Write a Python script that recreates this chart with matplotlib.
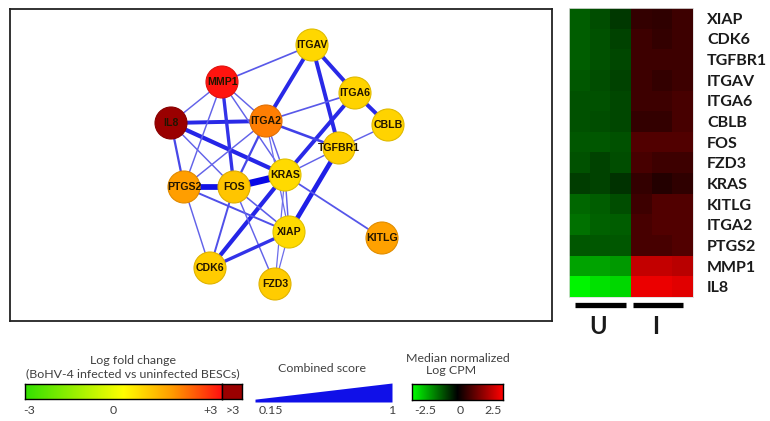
import numpy as np
import matplotlib
matplotlib.use("Agg")
import matplotlib.pyplot as plt
from matplotlib.colors import LinearSegmentedColormap, to_rgb
from matplotlib.patches import Circle, Rectangle

W, H = 770, 421

# genes in the interaction network, with log fold change (infected vs uninfected)
genes = ["ITGAV", "MMP1", "ITGA6", "IL8", "ITGA2", "CBLB", "TGFBR1",
         "KRAS", "PTGS2", "FOS", "XIAP", "KITLG", "CDK6", "FZD3"]
log_fc = [0.6, 2.95, 0.65, 4.2, 1.8, 0.65, 0.7,
          0.55, 1.45, 0.85, 0.55, 1.4, 0.75, 0.75]

# STRING interactions and their combined score
edge_a = ["MMP1", "ITGAV", "ITGAV", "ITGAV", "ITGA6", "ITGA6", "ITGA6", "CBLB",
          "IL8", "IL8", "IL8", "IL8", "IL8", "MMP1", "MMP1", "MMP1", "MMP1",
          "ITGA2", "ITGA2", "ITGA2", "ITGA2", "ITGA2", "TGFBR1", "TGFBR1",
          "KRAS", "PTGS2", "KRAS", "KRAS", "KRAS", "KRAS", "PTGS2", "PTGS2",
          "FOS", "FOS", "FOS", "XIAP", "XIAP"]
edge_b = ["ITGAV", "ITGA2", "ITGA6", "TGFBR1", "CBLB", "ITGA2", "KRAS", "TGFBR1",
          "MMP1", "ITGA2", "KRAS", "PTGS2", "FOS", "PTGS2", "FOS", "ITGA2", "KRAS",
          "TGFBR1", "FOS", "PTGS2", "XIAP", "KRAS", "KRAS", "XIAP",
          "FOS", "FOS", "XIAP", "KITLG", "CDK6", "FZD3", "XIAP", "CDK6",
          "CDK6", "XIAP", "FZD3", "CDK6", "FZD3"]
edge_score = [0.4, 0.72, 0.72, 0.72, 0.72, 0.4, 0.72, 0.35,
              0.35, 0.72, 0.75, 0.5, 0.35, 0.35, 0.65, 0.35, 0.35,
              0.55, 0.5, 0.35, 0.3, 0.35, 0.35, 0.8,
              1.0, 0.9, 0.35, 0.42, 0.75, 0.3, 0.45, 0.35,
              0.45, 0.38, 0.35, 0.65, 0.3]

# node layout (pixels inside the network panel)
layout = {"ITGAV": (312, 45), "MMP1": (222, 82), "ITGA6": (355, 93),
          "IL8": (171, 123), "ITGA2": (266, 121), "CBLB": (388, 125),
          "TGFBR1": (339, 148), "KRAS": (285, 175), "PTGS2": (184, 187),
          "FOS": (234, 187), "XIAP": (289, 232), "KITLG": (382, 238),
          "CDK6": (210, 268), "FZD3": (275, 284)}

# heatmap: median normalized log CPM, 3 uninfected + 3 infected samples
hm_genes = ["XIAP", "CDK6", "TGFBR1", "ITGAV", "ITGA6", "CBLB", "FOS",
            "FZD3", "KRAS", "KITLG", "ITGA2", "PTGS2", "MMP1", "IL8"]
hm_values = [
    [-0.9, -0.75, -0.55, 0.5, 0.45, 0.6],
    [-0.9, -0.8, -0.65, 0.6, 0.5, 0.6],
    [-0.9, -0.8, -0.7, 0.6, 0.6, 0.6],
    [-0.85, -0.75, -0.65, 0.6, 0.5, 0.6],
    [-0.8, -0.8, -0.7, 0.6, 0.6, 0.7],
    [-0.8, -0.75, -0.7, 0.5, 0.5, 0.7],
    [-0.85, -0.85, -0.8, 0.8, 0.8, 0.8],
    [-0.8, -0.65, -0.75, 0.7, 0.6, 0.6],
    [-0.6, -0.65, -0.5, 0.5, 0.35, 0.45],
    [-1.0, -0.9, -0.75, 0.6, 0.8, 0.8],
    [-1.1, -0.95, -0.9, 0.7, 0.8, 0.8],
    [-0.85, -0.85, -0.85, 0.7, 0.7, 0.8],
    [-1.6, -1.6, -1.5, 1.9, 1.9, 1.8],
    [-2.4, -2.2, -2.1, 2.3, 2.3, 2.2],
]
groups = ["U", "I"]

fc_cmap = LinearSegmentedColormap.from_list(
    "fc", [(0, "#33e000"), (0.5, "#ffff00"), (0.75, "#ff9a00"), (1, "#ff1010")])
fc_over = "#9a0000"
cpm_cmap = LinearSegmentedColormap.from_list(
    "cpm", [(0, "#00ff00"), (0.5, "#000000"), (1, "#ff0000")])

body = ["Lato", "DejaVu Sans"]
small = dict(family=body, fontsize=8.9, color="#404040", ha="center", va="center")

fig = plt.figure(figsize=(W / 100, H / 100), dpi=100)


def px_axes(l, t, r, b, **kw):
    return fig.add_axes([l / W, 1 - b / H, (r - l) / W, (b - t) / H], **kw)


# canvas in pixel units for legend text
canvas = px_axes(0, 0, W, H)
canvas.set_xlim(0, W)
canvas.set_ylim(H, 0)
canvas.axis("off")

# ---- network ----
net = px_axes(10, 9, 552, 321)
net.set_xlim(10, 552)
net.set_ylim(321, 9)
net.set_xticks([])
net.set_yticks([])
for s in net.spines.values():
    s.set_linewidth(1.3)
    s.set_color("#222222")

light = np.array(to_rgb("#a4a4ec"))
dark = np.array(to_rgb("#0808e6"))
for a, b, sc in zip(edge_a, edge_b, edge_score):
    t = ((sc - 0.15) / 0.85) ** 0.6
    col = light * (1 - t) + dark * t
    (x1, y1), (x2, y2) = layout[a], layout[b]
    net.plot([x1, x2], [y1, y2], color=col, lw=0.5 + 4.5 * sc ** 2,
             solid_capstyle="butt", zorder=1)

for g, fc in zip(genes, log_fc):
    col = fc_over if fc > 3 else fc_cmap((fc + 3) / 6)
    edge = np.array(to_rgb(col)) * 0.88
    net.add_patch(Circle(layout[g], 16, facecolor=col, edgecolor=edge,
                         lw=0.8, zorder=2))
    net.text(*layout[g], g, ha="center", va="center", fontsize=7.6,
             fontweight="bold", family=["Liberation Sans", "DejaVu Sans"],
             color="#221500", zorder=3)

# ---- heatmap ----
hm = px_axes(569, 8, 693, 297)
hm.imshow(np.array(hm_values), cmap=cpm_cmap, vmin=-2.5, vmax=2.5,
          aspect="auto", interpolation="nearest")
hm.set_xticks([])
hm.yaxis.tick_right()
hm.set_yticks(range(len(hm_genes)))
hm.set_yticklabels(hm_genes, family=body, fontweight="bold", fontsize=11.5,
                   color="#1a1a1a")
hm.tick_params(axis="y", length=0, pad=10)
for s in hm.spines.values():
    s.set_color("#dddddd")
    s.set_linewidth(0.6)

# group bars and labels under the heatmap
for (x0, x1), lab in zip([(575, 626), (633, 683)], groups):
    canvas.plot([x0, x1], [305, 305], color="black", lw=3.8,
                solid_capstyle="butt")
    canvas.text((x0 + x1) / 2 - 2, 326, lab, family=body, fontsize=17,
                fontweight="bold", color="#1a1a1a", ha="center", va="center")

# ---- legend: log fold change ----
canvas.text(133, 361, "Log fold change", **small)
canvas.text(133, 374, "(BoHV-4 infected vs uninfected BESCs)", **small)
fc_ax = px_axes(25, 384, 222, 399)
fc_ax.imshow(np.linspace(-3, 3, 256)[None, :], cmap=fc_cmap, vmin=-3, vmax=3,
             aspect="auto", extent=(-3, 3, 0, 1))
fc_ax.set_xticks([])
fc_ax.set_yticks([])
over_ax = px_axes(222, 384, 242, 399)
over_ax.add_patch(Rectangle((0, 0), 1, 1, color=fc_over))
over_ax.set_xticks([])
over_ax.set_yticks([])
for ax in (fc_ax, over_ax):
    for s in ax.spines.values():
        s.set_linewidth(1.0)
canvas.text(29, 411, "-3", **small)
canvas.text(113, 411, "0", **small)
canvas.text(211, 411, "+3", **small)
canvas.text(233, 411, ">3", **small)

# ---- legend: combined score ----
canvas.text(322, 368, "Combined score", **small)
sc_ax = px_axes(255, 383, 392, 402)
sx = np.array([0.15, 1.0])
sc_ax.fill_between(sx, 0, sx, color="#1010e8", lw=0)
sc_ax.set_xlim(0.15, 1)
sc_ax.set_ylim(0, 1)
sc_ax.axis("off")
canvas.text(271, 411, "0.15", **small)
canvas.text(393, 411, "1", **small)

# ---- legend: median normalized log CPM ----
canvas.text(458, 358, "Median normalized", **small)
canvas.text(451, 370, "Log CPM", **small)
cpm_ax = px_axes(412, 384, 503, 400)
cpm_ax.imshow(np.linspace(-3.4, 3.3, 256)[None, :], cmap=cpm_cmap,
              vmin=-3.4, vmax=3.3, aspect="auto", extent=(-3.4, 3.3, 0, 1))
cpm_ax.set_xticks([])
cpm_ax.set_yticks([])
for s in cpm_ax.spines.values():
    s.set_linewidth(1.0)
canvas.text(425, 411, "-2.5", **small)
canvas.text(460, 411, "0", **small)
canvas.text(493, 411, "2.5", **small)

fig.savefig("out.png", dpi=100)
